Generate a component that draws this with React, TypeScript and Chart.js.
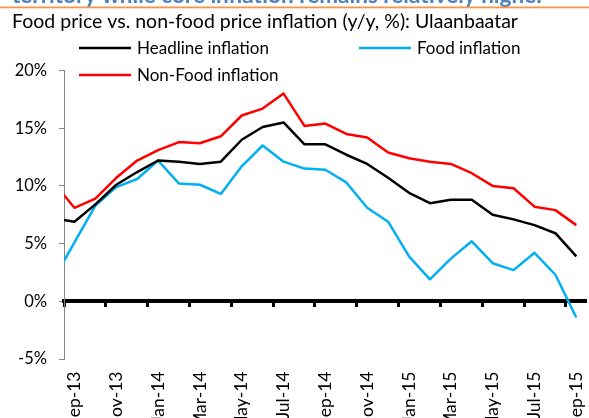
import React, { useEffect, useRef } from "react";
import { Chart, registerables } from "chart.js";

Chart.register(...registerables);

const HEADING = "territory while core inflation remains relatively higher";
const TITLE = "Food price vs. non-food price inflation (y/y, %): Ulaanbaatar";

const months = [
  "Aug-13", "Sep-13", "Oct-13", "Nov-13", "Dec-13",
  "Jan-14", "Feb-14", "Mar-14", "Apr-14", "May-14", "Jun-14", "Jul-14",
  "Aug-14", "Sep-14", "Oct-14", "Nov-14", "Dec-14",
  "Jan-15", "Feb-15", "Mar-15", "Apr-15", "May-15", "Jun-15", "Jul-15",
  "Aug-15", "Sep-15",
];

const headline = [
  7.2, 6.9, 8.4, 10.1, 11.2,
  12.2, 12.1, 11.9, 12.1, 14.0, 15.1, 15.5,
  13.6, 13.6, 12.7, 11.9, 10.7,
  9.4, 8.5, 8.8, 8.8, 7.5, 7.1, 6.6,
  5.9, 3.9,
];

const food = [
  1.9, 5.1, 8.3, 9.9, 10.6,
  12.2, 10.2, 10.1, 9.3, 11.7, 13.5, 12.1,
  11.5, 11.4, 10.3, 8.1, 6.9,
  3.9, 1.9, 3.7, 5.2, 3.3, 2.7, 4.2,
  2.3, -1.4,
];

const nonFood = [
  10.3, 8.1, 8.9, 10.7, 12.2,
  13.1, 13.8, 13.7, 14.3, 16.1, 16.7, 18.0,
  15.2, 15.4, 14.5, 14.2, 12.9,
  12.4, 12.1, 11.9, 11.1, 10.0, 9.8, 8.2,
  7.9, 6.6,
];

const seriesNames = ["Headline inflation", "Food inflation", "Non-Food inflation"];
const seriesColors = ["#000000", "#00B0F0", "#FF0000"];

const yMin = -5;
const yMax = 20;
const yStep = 5;
const firstShown = "Sep-13";
const lastShown = "Sep-15";

const FONT = "Lato, 'Open Sans', sans-serif";

const decor = {
  id: "decor",
  afterDraw(chart: any) {
    const ctx = chart.ctx as CanvasRenderingContext2D;
    ctx.save();
    ctx.textAlign = "left";
    ctx.textBaseline = "alphabetic";
    // partial heading from the page above
    ctx.fillStyle = "#4F81BD";
    ctx.font = `bold 22.5px ${FONT}`;
    ctx.fillText(HEADING, 12, 2.5);
    // orange rule
    ctx.fillStyle = "#F79646";
    ctx.fillRect(0, 6.5, chart.width, 1.8);
    // chart title
    ctx.fillStyle = "#000000";
    ctx.font = `19.5px ${FONT}`;
    ctx.fillText(TITLE, 12, 28);
    // legend
    const slots = [
      { x: 79, y: 48 },
      { x: 359, y: 48 },
      { x: 79, y: 75 },
    ];
    chart.data.datasets.forEach((ds: any, i: number) => {
      const s = slots[i];
      ctx.strokeStyle = ds.borderColor;
      ctx.lineWidth = 2.5;
      ctx.beginPath();
      ctx.moveTo(s.x, s.y);
      ctx.lineTo(s.x + 52, s.y);
      ctx.stroke();
      ctx.fillStyle = "#000000";
      ctx.font = `17px ${FONT}`;
      ctx.fillText(ds.label, s.x + 58, s.y + 6);
    });
    ctx.restore();
  },
};

export default function App() {
  const canvasRef = useRef<HTMLCanvasElement | null>(null);

  useEffect(() => {
    const canvas = canvasRef.current;
    if (!canvas) return;
    const seriesData = [headline, food, nonFood];
    const chart = new Chart(canvas, {
      type: "line",
      data: {
        labels: months,
        datasets: seriesData.map((d, i) => ({
          label: seriesNames[i],
          data: d,
          borderColor: seriesColors[i],
          backgroundColor: seriesColors[i],
          borderWidth: 2.5,
          pointRadius: 0,
          tension: 0,
          fill: false,
          clip: 0,
          borderJoinStyle: "round" as const,
        })),
      },
      options: {
        responsive: false,
        animation: false,
        devicePixelRatio: 1,
        layout: { padding: { top: 70.5, right: 10, left: 0, bottom: 0 } },
        plugins: {
          legend: { display: false },
          tooltip: { enabled: false },
          title: { display: false },
        },
        scales: {
          x: {
            type: "category",
            position: "bottom",
            min: firstShown,
            max: lastShown,
            offset: true,
            grid: { display: false, drawTicks: false },
            border: { display: false },
            ticks: {
              autoSkip: false,
              minRotation: 90,
              maxRotation: 90,
              padding: 12.5,
              color: "#000000",
              font: { family: FONT, size: 17.5 },
              callback: (val: any, idx: number) => (idx % 2 === 0 ? months[val as number] : ""),
            },
            afterFit: (s: any) => {
              s.height = 59;
            },
          },
          x2: {
            type: "category",
            position: { y: 0 } as any,
            min: firstShown,
            max: lastShown,
            offset: true,
            grid: {
              display: true,
              drawOnChartArea: false,
              drawTicks: true,
              tickLength: 4,
              tickWidth: 3,
              offset: true,
              tickColor: (c: any) => (c.index % 2 === 0 ? "#000000" : "rgba(0,0,0,0)"),
              color: "rgba(0,0,0,0)",
            },
            border: { display: true, color: "#000000", width: 4 },
            ticks: { display: false },
          },
          y: {
            type: "linear",
            position: "left",
            min: yMin,
            max: yMax,
            ticks: {
              stepSize: yStep,
              padding: 12,
              color: "#000000",
              font: { family: FONT, size: 16.5 },
              callback: (v: any) => `${v}%`,
            },
            grid: {
              drawOnChartArea: false,
              drawTicks: true,
              tickLength: 5,
              color: "#868686",
            },
            border: { display: true, color: "#868686", width: 1 },
            afterFit: (s: any) => {
              s.width = 64;
            },
          },
        },
      },
      plugins: [decor],
    });
    return () => chart.destroy();
  }, []);

  return (
    <div
      style={{
        position: "fixed",
        left: 0,
        top: 0,
        width: 589,
        height: 418,
        overflow: "hidden",
        background: "#ffffff",
      }}
    >
      <canvas
        ref={canvasRef}
        width={610}
        height={418}
        style={{ position: "absolute", left: 0, top: 0, width: 610, height: 418, display: "block" }}
      />
    </div>
  );
}
